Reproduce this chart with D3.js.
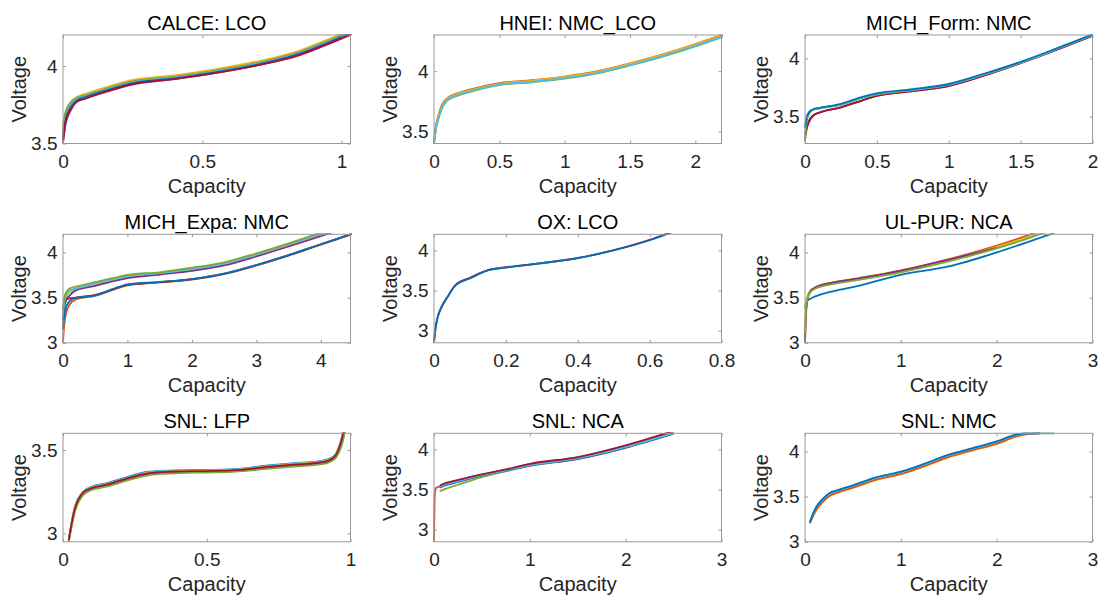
<!DOCTYPE html>
<html>
<head>
<meta charset="utf-8">
<script src="https://cdn.jsdelivr.net/npm/d3@7"></script>
<style>
  html, body { margin: 0; padding: 0; background: #fff; }
  svg { display: block; font-family: "Liberation Sans", Arial, sans-serif; }
</style>
</head>
<body>
<svg id="chart" width="1099" height="597"></svg>
<script>
// MATLAB default line colours, used by index below
const colorOrder = ["#0072BD", "#D95319", "#EDB120", "#7E2F8E", "#77AC30", "#4DBEEE", "#A2142F"];

// ---- CALCE: LCO ----
const calceCap = [0, 0.01, 0.03, 0.05, 0.08, 0.15, 0.25, 0.4, 0.55, 0.7, 0.85, 0.95, 1.05];
const calceVolt = [
  [3.58, 3.69, 3.76, 3.795, 3.815, 3.855, 3.905, 3.935, 3.975, 4.025, 4.095, 4.165, 4.245],
  [3.6, 3.7, 3.77, 3.80, 3.82, 3.86, 3.91, 3.94, 3.98, 4.03, 4.10, 4.17, 4.25],
  [3.62, 3.71, 3.77, 3.795, 3.81, 3.85, 3.9, 3.93, 3.97, 4.02, 4.09, 4.16, 4.24],
  [3.55, 3.67, 3.75, 3.785, 3.805, 3.845, 3.895, 3.925, 3.965, 4.015, 4.085, 4.155, 4.235],
  [3.54, 3.66, 3.74, 3.78, 3.80, 3.84, 3.89, 3.92, 3.96, 4.01, 4.08, 4.15, 4.23],
  [3.5, 3.63, 3.72, 3.77, 3.79, 3.83, 3.88, 3.915, 3.955, 4.005, 4.075, 4.145, 4.22],
  [3.52, 3.65, 3.73, 3.77, 3.79, 3.835, 3.885, 3.915, 3.955, 4.005, 4.07, 4.14, 4.215]
];
const calceColors = [1, 2, 4, 5, 0, 3, 6];

// ---- HNEI: NMC_LCO ----
const hneiCap = [0, 0.01, 0.03, 0.06, 0.1, 0.15, 0.25, 0.5, 0.75, 1.0, 1.25, 1.5, 1.75, 2.0, 2.25];
const hneiVolt = [
  [3.4, 3.5, 3.6, 3.7, 3.765, 3.795, 3.83, 3.89, 3.915, 3.945, 3.99, 4.055, 4.13, 4.215, 4.31],
  [3.42, 3.52, 3.62, 3.72, 3.775, 3.805, 3.84, 3.9, 3.925, 3.955, 4.0, 4.065, 4.14, 4.225, 4.32],
  [3.41, 3.51, 3.61, 3.71, 3.77, 3.80, 3.835, 3.895, 3.922, 3.952, 3.997, 4.062, 4.138, 4.222, 4.318],
  [3.4, 3.49, 3.59, 3.69, 3.755, 3.785, 3.82, 3.885, 3.908, 3.938, 3.982, 4.047, 4.12, 4.205, 4.3],
  [3.4, 3.49, 3.59, 3.69, 3.76, 3.79, 3.825, 3.888, 3.912, 3.942, 3.986, 4.05, 4.125, 4.21, 4.305]
];
const hneiColors = [0, 1, 2, 4, 5];

// ---- MICH_Form: NMC ----
const formCap = [0, 0.01, 0.03, 0.06, 0.1, 0.25, 0.4, 0.5, 0.75, 1.0, 1.25, 1.5, 1.75, 2.0];
const formVolt = [
  [3.3, 3.38, 3.46, 3.51, 3.535, 3.58, 3.64, 3.68, 3.72, 3.765, 3.855, 3.96, 4.075, 4.195],
  [3.35, 3.4, 3.47, 3.515, 3.535, 3.58, 3.64, 3.678, 3.718, 3.762, 3.853, 3.958, 4.073, 4.193],
  [3.29, 3.44, 3.53, 3.56, 3.57, 3.60, 3.66, 3.69, 3.728, 3.773, 3.862, 3.962, 4.078, 4.2],
  [3.42, 3.49, 3.545, 3.565, 3.573, 3.605, 3.665, 3.695, 3.73, 3.775, 3.865, 3.965, 4.08, 4.2],
  [3.40, 3.48, 3.54, 3.565, 3.575, 3.61, 3.67, 3.70, 3.735, 3.78, 3.87, 3.97, 4.085, 4.205]
];
const formColors = [3, 6, 4, 5, 0];

// ---- MICH_Expa: NMC ----
const expaCap = [0, 0.02, 0.05, 0.1, 0.2, 0.5, 0.8, 1.0, 1.5, 2.0, 2.5, 3.0, 3.5, 4.0, 4.5];
const expaVolt = [
  [3.0, 3.2, 3.33, 3.42, 3.48, 3.52, 3.59, 3.635, 3.668, 3.7, 3.76, 3.855, 3.965, 4.085, 4.205],
  [3.35, 3.45, 3.48, 3.49, 3.5, 3.53, 3.6, 3.64, 3.67, 3.705, 3.765, 3.86, 3.97, 4.09, 4.21],
  [3.1, 3.4, 3.5, 3.56, 3.59, 3.65, 3.7, 3.73, 3.765, 3.81, 3.87, 3.97, 4.08, 4.2, 4.32],
  [3.25, 3.4, 3.47, 3.52, 3.58, 3.63, 3.685, 3.715, 3.755, 3.795, 3.855, 3.955, 4.065, 4.18, 4.3],
  [3.3, 3.45, 3.53, 3.58, 3.6, 3.655, 3.705, 3.735, 3.77, 3.815, 3.875, 3.975, 4.09, 4.205, 4.33],
  [3.35, 3.5, 3.56, 3.6, 3.62, 3.67, 3.72, 3.75, 3.78, 3.83, 3.89, 3.99, 4.1, 4.22, 4.35],
  [3.15, 3.3, 3.4, 3.46, 3.5, 3.525, 3.6, 3.645, 3.672, 3.705, 3.765, 3.86, 3.97, 4.09, 4.21]
];
const expaColors = [1, 6, 2, 3, 5, 4, 0];

// ---- OX: LCO ----
const oxCap = [0, 0.003, 0.01, 0.02, 0.04, 0.06, 0.1, 0.15, 0.2, 0.3, 0.4, 0.5, 0.6, 0.66];
const oxVolt = [
  [2.85, 3.0, 3.17, 3.29, 3.44, 3.57, 3.66, 3.755, 3.79, 3.842, 3.905, 4.003, 4.13, 4.23],
  [2.85, 2.98, 3.16, 3.28, 3.435, 3.565, 3.65, 3.75, 3.786, 3.84, 3.903, 4.0, 4.126, 4.225]
];
const oxColors = [6, 0];

// ---- UL-PUR: NCA ----
const ulCap = [0, 0.01, 0.03, 0.06, 0.1, 0.25, 0.5, 1.0, 1.5, 2.0, 2.3, 2.6];
const ulVolt = [
  [3.38, 3.43, 3.47, 3.49, 3.51, 3.56, 3.615, 3.752, 3.845, 4.0, 4.105, 4.215],
  [3.0, 3.35, 3.52, 3.58, 3.61, 3.66, 3.705, 3.80, 3.925, 4.075, 4.18, 4.3],
  [3.05, 3.35, 3.51, 3.575, 3.6, 3.65, 3.695, 3.79, 3.91, 4.06, 4.16, 4.27],
  [3.0, 3.3, 3.5, 3.57, 3.605, 3.655, 3.7, 3.796, 3.918, 4.05],
  [3.1, 3.35, 3.5, 3.565, 3.595, 3.64, 3.685, 3.78, 3.9, 4.045, 4.145, 4.255]
];
const ulColors = [0, 1, 2, 3, 4];

// ---- SNL: LFP ----
const lfpCap = [0.02, 0.04, 0.07, 0.1, 0.15, 0.2, 0.3, 0.4, 0.5, 0.6, 0.7, 0.8, 0.9, 0.93, 0.95, 0.97, 0.99];
const lfpVolt = [
  [2.96, 3.15, 3.25, 3.28, 3.30, 3.325, 3.37, 3.378, 3.38, 3.385, 3.405, 3.42, 3.435, 3.45, 3.48, 3.58, 3.75],
  [2.955, 3.14, 3.24, 3.27, 3.29, 3.315, 3.36, 3.37, 3.372, 3.377, 3.395, 3.41, 3.425, 3.44, 3.47, 3.56, 3.72],
  [2.955, 3.13, 3.235, 3.265, 3.285, 3.31, 3.355, 3.366, 3.368, 3.373, 3.39, 3.405, 3.42, 3.435, 3.46, 3.54, 3.71],
  [2.95, 3.12, 3.23, 3.26, 3.28, 3.305, 3.35, 3.362, 3.365, 3.37, 3.385, 3.4, 3.415, 3.43, 3.455, 3.53, 3.7],
  [2.96, 3.15, 3.25, 3.278, 3.298, 3.322, 3.368, 3.376, 3.378, 3.383, 3.402, 3.418, 3.433, 3.448, 3.478, 3.575, 3.74],
  [2.958, 3.145, 3.245, 3.274, 3.294, 3.318, 3.364, 3.374, 3.376, 3.381, 3.399, 3.415, 3.43, 3.445, 3.475, 3.57, 3.735],
  [2.96, 3.14, 3.245, 3.272, 3.292, 3.318, 3.362, 3.372, 3.374, 3.379, 3.397, 3.412, 3.427, 3.442, 3.472, 3.565, 3.73]
];
const lfpColors = [0, 1, 3, 4, 5, 2, 6];

// ---- SNL: NCA ----
const ncaCap = [0, 0.005, 0.01, 0.02, 0.06, 0.1, 0.25, 0.5, 0.75, 1.0, 1.5, 2.0, 2.5];
const ncaVolt = [
  [2.85, 3.3, 3.47, 3.52, 3.54, 3.56, 3.61, 3.685, 3.745, 3.815, 3.90, 4.045, 4.22],
  [null, null, null, null, 3.525, 3.545, 3.595, 3.67, 3.73, 3.795, 3.88, 4.02, 4.195],
  [null, null, null, null, 3.48, 3.5, 3.56, 3.655, 3.73, 3.80, 3.885, 4.025, 4.2],
  [null, null, null, null, 3.53, 3.55, 3.6, 3.675, 3.735, 3.8, 3.885, 4.025, 4.2],
  [null, null, null, null, 3.535, 3.555, 3.605, 3.68, 3.74, 3.805, 3.89, 4.03, 4.205],
  [null, null, null, null, 3.55, 3.57, 3.62, 3.69, 3.75, 3.82, 3.905, 4.05, 4.23]
];
const ncaColors = [1, 3, 4, 0, 5, 6];

// ---- SNL: NMC ----
const nmcCap = [0.05, 0.08, 0.12, 0.18, 0.25, 0.35, 0.5, 0.75, 1.0, 1.25, 1.5, 1.75, 2.0, 2.2, 2.3, 2.45, 2.6];
const nmcVolt = [
  [3.2, 3.27, 3.35, 3.43, 3.5, 3.545, 3.595, 3.685, 3.745, 3.835, 3.935, 4.01, 4.08, 4.16, 4.185, 4.2, 4.2],
  [3.21, 3.28, 3.36, 3.44, 3.505, 3.55, 3.6, 3.69, 3.75, 3.84, 3.94, 4.015, 4.085, 4.165, 4.19, 4.2],
  [3.21, 3.3, 3.385, 3.465, 3.53, 3.57, 3.62, 3.71, 3.77, 3.86, 3.96, 4.03, 4.105, 4.18, 4.2, 4.2, 4.2],
  [3.21, 3.3, 3.39, 3.47, 3.535, 3.575, 3.625, 3.715, 3.775, 3.865, 3.965, 4.035, 4.11, 4.185, 4.2, 4.2]
];
const nmcColors = [2, 1, 5, 0];

// ---- titles, limits, ticks ----
const panelTitles = ["CALCE: LCO", "HNEI: NMC_LCO", "MICH_Form: NMC", "MICH_Expa: NMC", "OX: LCO",
                     "UL-PUR: NCA", "SNL: LFP", "SNL: NCA", "SNL: NMC"];
const xLimits = [[0, 1.032], [0, 2.2], [0, 2], [0, 4.46], [0, 0.8], [0, 3], [0, 1], [0, 3], [0, 3]];
const yLimits = [[3.5, 4.2], [3.4, 4.3], [3.27, 4.2], [3, 4.2], [2.85, 4.2], [3, 4.2], [2.95, 3.6], [2.85, 4.2], [3, 4.2]];
const xTickVals = [[0, 0.5, 1], [0, 0.5, 1, 1.5, 2], [0, 0.5, 1, 1.5, 2], [0, 1, 2, 3, 4], [0, 0.2, 0.4, 0.6, 0.8],
                   [0, 1, 2, 3], [0, 0.5, 1], [0, 1, 2, 3], [0, 1, 2, 3]];
const yTickVals = [[3.5, 4], [3.5, 4], [3.5, 4], [3, 3.5, 4], [3, 3.5, 4], [3, 3.5, 4], [3, 3.5], [3, 3.5, 4], [3, 3.5, 4]];

const panelCaps = [calceCap, hneiCap, formCap, expaCap, oxCap, ulCap, lfpCap, ncaCap, nmcCap];
const panelVolts = [calceVolt, hneiVolt, formVolt, expaVolt, oxVolt, ulVolt, lfpVolt, ncaVolt, nmcVolt];
const panelColors = [calceColors, hneiColors, formColors, expaColors, oxColors, ulColors, lfpColors, ncaColors, nmcColors];

// --------------------
// Layout
// --------------------
const colLeft = [63, 434, 805];
const rowTop = [35, 234.3, 433.3];
const boxW = 287.5, boxH = 108.5;
const axisGray = "#999999";
const textGray = "#262626";

const svg = d3.select("#chart");
svg.append("rect").attr("width", 1099).attr("height", 597).attr("fill", "#fff");

panelTitles.forEach((title, i) => {
  const left = colLeft[i % 3];
  const top = rowTop[Math.floor(i / 3)];
  const x = d3.scaleLinear().domain(xLimits[i]).range([0, boxW]);
  const y = d3.scaleLinear().domain(yLimits[i]).range([boxH, 0]);

  const g = svg.append("g").attr("transform", `translate(${left},${top})`);

  g.append("clipPath").attr("id", "clip" + i)
    .append("rect").attr("x", -1).attr("y", -1).attr("width", boxW + 2).attr("height", boxH + 2);

  // curves
  const caps = panelCaps[i];
  const line = d3.line()
    .defined(d => d[1] != null)
    .x(d => x(d[0]))
    .y(d => y(d[1]))
    .curve(d3.curveMonotoneX);

  const plot = g.append("g").attr("clip-path", `url(#clip${i})`);
  panelVolts[i].forEach((volts, k) => {
    const pts = volts.map((v, j) => [caps[j], v]);
    plot.append("path")
      .attr("d", line(pts))
      .attr("fill", "none")
      .attr("stroke", colorOrder[panelColors[i][k]])
      .attr("stroke-width", 1.8)
      .attr("stroke-linejoin", "round");
  });

  // axes, ticks pointing inward like MATLAB
  const fmt = d => String(d);
  const bottom = g.append("g").attr("transform", `translate(0,${boxH})`)
    .call(d3.axisBottom(x).tickValues(xTickVals[i]).tickFormat(fmt).tickSizeInner(-3).tickSizeOuter(0).tickPadding(11));
  const topAx = g.append("g")
    .call(d3.axisTop(x).tickValues(xTickVals[i]).tickFormat("").tickSizeInner(-3).tickSizeOuter(0));
  const leftAx = g.append("g")
    .call(d3.axisLeft(y).tickValues(yTickVals[i]).tickFormat(fmt).tickSizeInner(-3).tickSizeOuter(0).tickPadding(5.5));
  const rightAx = g.append("g").attr("transform", `translate(${boxW},0)`)
    .call(d3.axisRight(y).tickValues(yTickVals[i]).tickFormat("").tickSizeInner(-3).tickSizeOuter(0));

  [bottom, topAx, leftAx, rightAx].forEach(ax => {
    ax.select(".domain").remove();
    ax.selectAll("line").attr("stroke", axisGray);
    ax.selectAll("text")
      .attr("fill", textGray)
      .style("font-family", "'Liberation Sans', Arial, sans-serif")
      .style("font-size", "19px");
  });

  g.append("rect")
    .attr("width", boxW).attr("height", boxH)
    .attr("fill", "none").attr("stroke", axisGray).attr("stroke-width", 1);

  // title and labels
  g.append("text")
    .attr("x", boxW / 2).attr("y", -5)
    .attr("text-anchor", "middle")
    .attr("fill", "#000")
    .style("font-size", "20px")
    .text(title);

  g.append("text")
    .attr("x", boxW / 2).attr("y", boxH + 49)
    .attr("text-anchor", "middle")
    .attr("fill", textGray)
    .style("font-size", "20px")
    .text("Capacity");

  g.append("text")
    .attr("transform", `translate(-37,${boxH / 2}) rotate(-90)`)
    .attr("text-anchor", "middle")
    .attr("fill", textGray)
    .style("font-size", "20px")
    .text("Voltage");
});
</script>
</body>
</html>
